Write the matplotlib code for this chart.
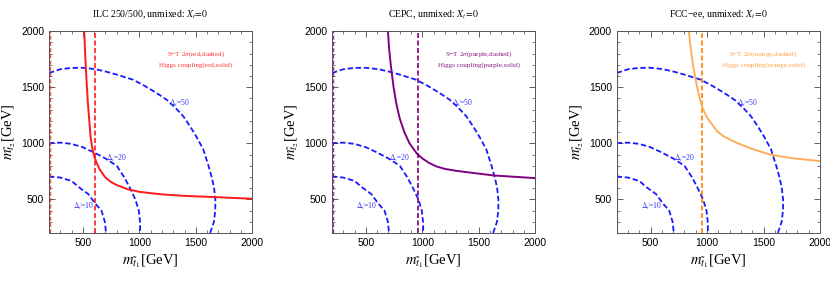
import matplotlib
matplotlib.use("Agg")
import matplotlib.pyplot as plt
import numpy as np

# fine-tuning contours (symmetric in m_t1 <-> m_t2)
d10_x = [200, 300, 400, 467, 548, 607, 665, 695, 705]
d10_y = [705, 695, 665, 607, 548, 467, 400, 300, 200]
d20_x = [200, 300, 400, 500, 600, 700, 800, 865, 918, 965, 995, 1006, 1008]
d20_y = [1002, 1006, 995, 965, 918, 865, 800, 700, 600, 500, 400, 300, 200]
d50_x = [200, 300, 400, 500, 607, 700, 800, 946, 1050, 1150, 1242, 1318,
         1388, 1450, 1510, 1566, 1612, 1640, 1661, 1673, 1672, 1660, 1626]
d50_y = [1626, 1660, 1672, 1673, 1661, 1640, 1612, 1566, 1510, 1450, 1388, 1318,
         1242, 1150, 1050, 946, 800, 700, 607, 500, 400, 300, 200]

panels = ["ILC 250/500", "CEPC", "FCC\u2212ee"]
color_names = ["red", "purple", "orange"]
st_bound = [605, 957, 959]
st_left = [205, 205, 205]

higgs_x = [
    [512, 518, 525, 533, 545, 557, 569, 585, 600, 620, 650, 700, 750, 800, 900, 1000, 1200, 1400, 1670, 2000],
    [695, 705, 720, 745, 770, 800, 840, 886, 950, 1000, 1060, 1122, 1200, 1300, 1417, 1629, 2000],
    [838, 855, 875, 912, 935, 960, 1000, 1050, 1090, 1150, 1268, 1400, 1564, 1750, 2000],
]
higgs_y = [
    [2000, 1850, 1700, 1550, 1350, 1200, 1050, 950, 890, 830, 765, 695, 655, 628, 590, 568, 545, 532, 521, 506],
    [2000, 1850, 1700, 1500, 1350, 1220, 1100, 1000, 910, 865, 825, 795, 772, 755, 740, 714, 690],
    [2000, 1850, 1700, 1500, 1400, 1314, 1230, 1160, 1106, 1060, 1002, 950, 898, 868, 842],
]

solid_colors = ["#ff1a1a", "#800080", "#ffad5c"]
dashed_colors = ["#ff1a1a", "#800080", "#ff8000"]
text_colors = ["#ff3333", "#8b1a8b", "#ffa040"]
blue = "#1a1aff"

plt.rcParams.update({
    "font.family": "Liberation Sans",
    "font.serif": ["Liberation Serif"],
    "mathtext.fontset": "stix",
})

fig = plt.figure(figsize=(8.3, 2.85), dpi=100)
lefts = [0.059, 0.400, 0.743]
dash = (0, (3, 1.5))

for i in range(3):
    ax = fig.add_axes([lefts[i], 0.182, 0.245, 0.709])
    ax.plot(d10_x, d10_y, color=blue, ls=dash, lw=1.3)
    ax.plot(d20_x, d20_y, color=blue, ls=dash, lw=1.3)
    ax.plot(d50_x, d50_y, color=blue, ls=dash, lw=1.3)
    ax.axvline(st_bound[i], color=dashed_colors[i], ls=dash, lw=1.2)
    ax.axvline(st_left[i], color=dashed_colors[i], ls=dash, lw=1.0, alpha=0.8)
    ax.plot(higgs_x[i], higgs_y[i], color=solid_colors[i], lw=1.4)

    ax.set_xlim(200, 2000)
    ax.set_ylim(200, 2000)
    ax.set_xticks([500, 1000, 1500, 2000])
    ax.set_yticks([500, 1000, 1500, 2000])
    ax.set_xticks(np.arange(200, 2001, 100), minor=True)
    ax.set_yticks(np.arange(200, 2001, 100), minor=True)
    ax.tick_params(which="both", direction="in", top=True, right=True, labelsize=7.5, colors="#444444",
                   labelcolor="black")
    ax.tick_params(which="major", length=4, width=0.6)
    ax.tick_params(which="minor", length=2, width=0.5)
    for s in ax.spines.values():
        s.set_color("#555555")
        s.set_linewidth(0.7)

    ax.set_title(panels[i] + r", unmixed: $X_t\!=\!0$", fontsize=7, family="serif", pad=10)
    ax.set_xlabel(r"$m_{\tilde t_1}$[GeV]", fontsize=10.5, family="serif", labelpad=3)
    ax.set_ylabel(r"$m_{\tilde t_2}$[GeV]", fontsize=10.5, family="serif", labelpad=2)

    ax.text(1500, 1795, "S\u2212T 2" + r"$\sigma$" + "(%s,dashed)" % color_names[i], color=text_colors[i],
            fontsize=5.1, family="serif", ha="center", va="center")
    ax.text(1500, 1697, "Higgs coupling(%s,solid)" % color_names[i], color=text_colors[i],
            fontsize=5.1, family="serif", ha="center", va="center")

    ax.text(1360, 1360, r"$\Delta_{\tilde t}$=50", color="#3333ee", fontsize=5.5, family="serif",
            ha="center", va="center")
    ax.text(800, 870, r"$\Delta_{\tilde t}$=20", color="#3333ee", fontsize=5.5, family="serif",
            ha="center", va="center")
    ax.text(505, 436, r"$\Delta_{\tilde t}$=10", color="#3333ee", fontsize=5.5, family="serif",
            ha="center", va="center")

fig.savefig("out.png", dpi=100, facecolor="white")
